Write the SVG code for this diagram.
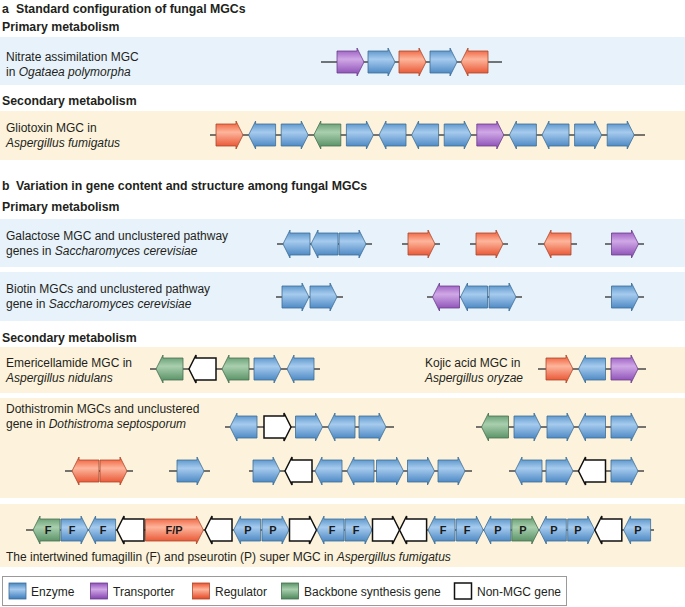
<svg xmlns="http://www.w3.org/2000/svg" xmlns:xlink="http://www.w3.org/1999/xlink" width="685" height="607" viewBox="0 0 685 607">
<style>
text{font-family:"Liberation Sans",Arial,sans-serif;font-size:12px;fill:#231f20}
.h{font-weight:bold;font-size:12.3px}
.i{font-style:italic}
.lbl{font-weight:bold;font-size:11px;text-anchor:middle;fill:#1a1a1a}
.ln{stroke:#4a4a4a;stroke-width:1.6;fill:none}
.en{fill:url(#gB);stroke:#3e6d96;stroke-width:0.8}
.tr{fill:url(#gP);stroke:#6a3d8a;stroke-width:0.8}
.rg{fill:url(#gR);stroke:#a8472c;stroke-width:0.8}
.bb{fill:url(#gG);stroke:#466f50;stroke-width:0.8}
.nm{fill:#ffffff;stroke:#111111;stroke-width:1.5}
.bandB{fill:#e8f2fb}
.bandY{fill:#fdf3dc}
</style>
<defs>
<linearGradient id="gB" x1="0" y1="0" x2="0" y2="1"><stop offset="0" stop-color="#4a88c2"/><stop offset="0.4" stop-color="#a6cbee"/><stop offset="1" stop-color="#3d7dbc"/></linearGradient>
<linearGradient id="gP" x1="0" y1="0" x2="0" y2="1"><stop offset="0" stop-color="#9150bb"/><stop offset="0.4" stop-color="#d0a8e6"/><stop offset="1" stop-color="#8444b0"/></linearGradient>
<linearGradient id="gR" x1="0" y1="0" x2="0" y2="1"><stop offset="0" stop-color="#ee532c"/><stop offset="0.4" stop-color="#fdb59c"/><stop offset="1" stop-color="#e54723"/></linearGradient>
<linearGradient id="gG" x1="0" y1="0" x2="0" y2="1"><stop offset="0" stop-color="#5a9467"/><stop offset="0.4" stop-color="#a9cfae"/><stop offset="1" stop-color="#4c885a"/></linearGradient>
<path id="r" d="M0,-11H20V-14L27,0L20,14V11H0Z"/>
<path id="l" d="M27,-11H7V-14L0,0L7,14V11H27Z"/>
<path id="rw" d="M0,-11H51V-14L58,0L51,14V11H0Z"/>
</defs>

<g id="backgrounds">
<rect class="bandB" x="0" y="37" width="685" height="48"/>
<rect class="bandY" x="0" y="111" width="685" height="49"/>
<rect class="bandB" x="0" y="219" width="685" height="48"/>
<rect class="bandB" x="0" y="272" width="685" height="49"/>
<rect class="bandY" x="0" y="347" width="685" height="46"/>
<rect class="bandY" x="0" y="398" width="685" height="100"/>
<rect class="bandY" x="0" y="504" width="685" height="63"/>
</g>

<g id="labels">
<text x="2" y="13" class="h">a</text>
<text x="16" y="13" class="h">Standard configuration of fungal MGCs</text>
<text x="2" y="31" class="h">Primary metabolism</text>
<text x="6" y="61">Nitrate assimilation MGC</text>
<text x="6" y="76">in <tspan class="i">Ogataea polymorpha</tspan></text>
<text x="2" y="105" class="h">Secondary metabolism</text>
<text x="6" y="132">Gliotoxin MGC in</text>
<text x="6" y="147" class="i">Aspergillus fumigatus</text>
<text x="2" y="190" class="h">b</text>
<text x="16" y="190" class="h">Variation in gene content and structure among fungal MGCs</text>
<text x="2" y="211" class="h">Primary metabolism</text>
<text x="6" y="240">Galactose MGC and unclustered pathway</text>
<text x="6" y="255">genes in <tspan class="i">Saccharomyces cerevisiae</tspan></text>
<text x="6" y="293">Biotin MGCs and unclustered pathway</text>
<text x="6" y="308">gene in <tspan class="i">Saccharomyces cerevisiae</tspan></text>
<text x="2" y="342" class="h">Secondary metabolism</text>
<text x="6" y="367">Emericellamide MGC in</text>
<text x="6" y="382" class="i">Aspergillus nidulans</text>
<text x="425" y="367">Kojic acid MGC in</text>
<text x="425" y="382" class="i">Aspergillus oryzae</text>
<text x="6" y="413">Dothistromin MGCs and unclustered</text>
<text x="6" y="428">gene in <tspan class="i">Dothistroma septosporum</tspan></text>
<text x="6" y="561">The intertwined fumagillin (F) and pseurotin (P) super MGC in <tspan class="i">Aspergillus fumigatus</tspan></text>
</g>

<g id="connectors">
<path class="ln" d="M321,62H502"/>
<path class="ln" d="M210,135H645"/>
<path class="ln" d="M277,244H372 M402,244H440 M470,244H508 M538,244H577 M605,244H644"/>
<path class="ln" d="M276,297H343 M427,297H522 M605,297H644"/>
<path class="ln" d="M150,369H320 M538,369H646"/>
<path class="ln" d="M225,427H394 M476,427H646"/>
<path class="ln" d="M65,471H133 M169,471H210 M249,471H472 M509,471H644"/>
<path class="ln" d="M26,530H654"/>
</g>

<g id="nitrate">
<use href="#r" x="337" y="62" class="tr"/>
<use href="#r" x="368" y="62" class="en"/>
<use href="#r" x="399" y="62" class="rg"/>
<use href="#r" x="430" y="62" class="en"/>
<use href="#l" x="461" y="62" class="rg"/>
</g>

<g id="gliotoxin">
<use href="#r" x="216" y="135" class="rg"/>
<use href="#l" x="248.6" y="135" class="en"/>
<use href="#r" x="281.2" y="135" class="en"/>
<use href="#l" x="313.8" y="135" class="bb"/>
<use href="#r" x="346.4" y="135" class="en"/>
<use href="#l" x="379" y="135" class="en"/>
<use href="#l" x="411.6" y="135" class="en"/>
<use href="#r" x="444.2" y="135" class="en"/>
<use href="#r" x="476.8" y="135" class="tr"/>
<use href="#l" x="509.4" y="135" class="en"/>
<use href="#l" x="542" y="135" class="en"/>
<use href="#r" x="574.6" y="135" class="en"/>
<use href="#r" x="607.2" y="135" class="en"/>
</g>

<g id="galactose">
<use href="#l" x="283" y="244" class="en"/>
<use href="#l" x="311" y="244" class="en"/>
<use href="#r" x="339" y="244" class="en"/>
<use href="#r" x="408" y="244" class="rg"/>
<use href="#r" x="476" y="244" class="rg"/>
<use href="#l" x="544" y="244" class="rg"/>
<use href="#r" x="611.5" y="244" class="tr"/>
</g>

<g id="biotin">
<use href="#r" x="282" y="297" class="en"/>
<use href="#r" x="310" y="297" class="en"/>
<use href="#l" x="432.5" y="297" class="tr"/>
<use href="#l" x="460.5" y="297" class="en"/>
<use href="#r" x="489" y="297" class="en"/>
<use href="#r" x="611.5" y="297" class="en"/>
</g>

<g id="emericellamide">
<use href="#l" x="156" y="369" class="bb"/>
<use href="#l" x="189" y="369" class="nm"/>
<use href="#l" x="222" y="369" class="bb"/>
<use href="#r" x="254" y="369" class="en"/>
<use href="#l" x="287" y="369" class="en"/>
</g>

<g id="kojic">
<use href="#r" x="546" y="369" class="rg"/>
<use href="#l" x="578.5" y="369" class="en"/>
<use href="#r" x="611" y="369" class="tr"/>
</g>

<g id="dothistromin">
<use href="#l" x="230" y="427" class="en"/>
<use href="#r" x="264" y="427" class="nm"/>
<use href="#r" x="295.5" y="427" class="en"/>
<use href="#l" x="328" y="427" class="en"/>
<use href="#r" x="359" y="427" class="en"/>
<use href="#l" x="481.5" y="427" class="bb"/>
<use href="#r" x="514" y="427" class="en"/>
<use href="#r" x="547" y="427" class="en"/>
<use href="#l" x="578.5" y="427" class="en"/>
<use href="#r" x="611" y="427" class="en"/>
<use href="#l" x="72" y="471" class="rg"/>
<use href="#r" x="100" y="471" class="rg"/>
<use href="#r" x="177" y="471" class="en"/>
<use href="#r" x="253" y="471" class="en"/>
<use href="#l" x="285" y="471" class="nm"/>
<use href="#l" x="315" y="471" class="en"/>
<use href="#l" x="347" y="471" class="en"/>
<use href="#r" x="376.5" y="471" class="en"/>
<use href="#r" x="407.5" y="471" class="en"/>
<use href="#r" x="438" y="471" class="en"/>
<use href="#l" x="515" y="471" class="en"/>
<use href="#r" x="546" y="471" class="en"/>
<use href="#l" x="578.5" y="471" class="nm"/>
<use href="#r" x="611" y="471" class="en"/>
</g>

<g id="fumagillin">
<use href="#l" x="33" y="530" class="bb"/>
<use href="#r" x="61" y="530" class="en"/>
<use href="#l" x="88.6" y="530" class="en"/>
<use href="#l" x="117" y="530" class="nm"/>
<use href="#rw" x="145.4" y="530" class="rg"/>
<use href="#l" x="205" y="530" class="nm"/>
<use href="#l" x="233.6" y="530" class="en"/>
<use href="#r" x="262" y="530" class="en"/>
<use href="#r" x="289.5" y="530" class="nm"/>
<use href="#l" x="317" y="530" class="en"/>
<use href="#r" x="345" y="530" class="en"/>
<use href="#r" x="372.5" y="530" class="nm"/>
<use href="#l" x="399.6" y="530" class="nm"/>
<use href="#l" x="428" y="530" class="en"/>
<use href="#r" x="456.3" y="530" class="en"/>
<use href="#l" x="483.8" y="530" class="en"/>
<use href="#r" x="511.8" y="530" class="bb"/>
<use href="#l" x="539.3" y="530" class="en"/>
<use href="#r" x="567.7" y="530" class="en"/>
<use href="#l" x="594.8" y="530" class="nm"/>
<use href="#l" x="623.6" y="530" class="en"/>
<text class="lbl" x="48" y="534">F</text>
<text class="lbl" x="72" y="534">F</text>
<text class="lbl" x="103" y="534">F</text>
<text class="lbl" x="174" y="534">F/P</text>
<text class="lbl" x="248" y="534">P</text>
<text class="lbl" x="273" y="534">P</text>
<text class="lbl" x="332" y="534">F</text>
<text class="lbl" x="356" y="534">F</text>
<text class="lbl" x="443" y="534">F</text>
<text class="lbl" x="467" y="534">F</text>
<text class="lbl" x="498" y="534">P</text>
<text class="lbl" x="523" y="534">P</text>
<text class="lbl" x="554" y="534">P</text>
<text class="lbl" x="578" y="534">P</text>
<text class="lbl" x="638" y="534">P</text>
</g>

<g id="legend">
<rect x="2.5" y="576.5" width="564" height="29" fill="#ffffff" stroke="#9a9a9a" stroke-width="1"/>
<rect x="9" y="583" width="17" height="16" class="en"/>
<text x="31" y="596">Enzyme</text>
<rect x="90.5" y="583" width="17" height="16" class="tr"/>
<text x="113" y="596">Transporter</text>
<rect x="192.5" y="583" width="17" height="16" class="rg"/>
<text x="215" y="596">Regulator</text>
<rect x="281.5" y="583" width="17" height="16" class="bb"/>
<text x="304" y="596">Backbone synthesis gene</text>
<rect x="454.5" y="583" width="17" height="16" class="nm"/>
<text x="477" y="596">Non-MGC gene</text>
</g>
</svg>
